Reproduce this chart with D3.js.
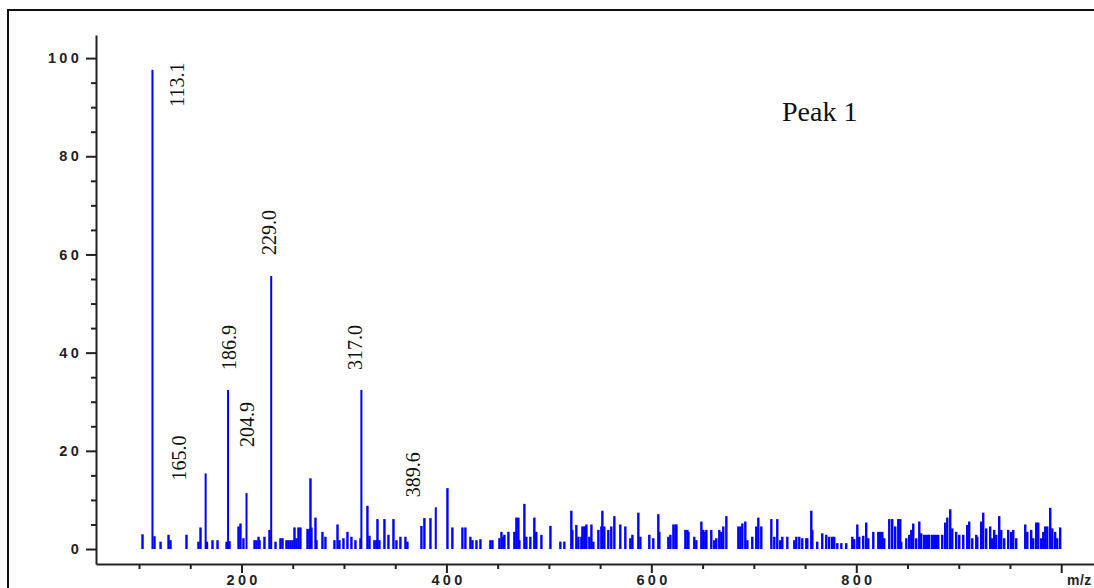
<!DOCTYPE html>
<html>
<head>
<meta charset="utf-8">
<script src="https://cdn.jsdelivr.net/npm/d3@7"></script>
<style>
  html, body { margin: 0; padding: 0; background: #ffffff; }
  svg { display: block; }
</style>
</head>
<body>
<svg id="chart" width="1094" height="588"></svg>
<script>
// Labelled fragment ions (m/z, relative abundance %)
const peakMz  = [113.1, 165.0, 186.9, 204.9, 229.0, 317.0, 389.6];
const peakInt = [97.6, 15.4, 32.4, 11.4, 55.6, 32.4, 8.5];

// Minor ions / background (m/z)
const noiseMz = [
  103.4, 115.1, 121.0, 128.8, 130.7, 146.3, 158.0, 160.0, 166.3, 171.7,
  176.6, 185.4, 188.3, 197.1, 199.0, 201.9, 212.7, 214.6, 216.6, 217.6,
  222.4, 227.3, 233.2, 238.0, 240.0, 243.9, 245.8, 247.8, 249.8, 251.7,
  253.6, 255.6, 257.5, 264.4, 266.3, 267.3, 268.3, 272.2, 273.2, 279.0,
  281.9, 290.7, 293.7, 295.6, 299.5, 303.4, 307.3, 311.2, 316.1, 322.9,
  324.9, 329.7, 331.7, 332.7, 334.6, 339.5, 343.4, 348.3, 351.2, 355.1,
  360.0, 361.9, 375.6, 378.5, 384.4, 401.0, 405.8, 415.6, 418.5, 423.4,
  425.4, 429.3, 433.2, 442.9, 444.9, 451.7, 453.7, 455.6, 456.6, 460.5,
  466.3, 468.3, 470.2, 471.2, 476.1, 478.0, 481.9, 485.8, 487.7, 492.7,
  501.5, 511.2, 515.1, 521.9, 522.9, 526.8, 528.8, 531.7, 532.7, 534.6,
  535.6, 536.6, 539.5, 541.5, 543.4, 548.3, 551.2, 552.2, 554.1, 558.0,
  560.9, 563.9, 569.7, 574.6, 579.5, 581.5, 587.3, 589.3, 598.0, 601.9,
  606.8, 607.8, 616.6, 618.6, 621.5, 623.5, 624.5, 633.2, 635.2, 636.2,
  641.9, 643.9, 648.8, 650.7, 652.7, 653.7, 658.5, 661.4, 663.4, 666.3,
  668.3, 670.2, 673.2, 684.9, 686.9, 688.8, 691.7, 693.7, 698.5, 702.4,
  704.4, 707.3, 717.1, 720.0, 722.9, 725.8, 727.8, 732.7, 739.5, 741.5,
  744.4, 747.3, 751.2, 752.2, 756.1, 757.1, 761.9, 766.8, 770.7, 773.6,
  776.5, 778.5, 781.5, 785.4, 790.2, 796.1, 798.0, 801.0, 802.9, 806.8,
  809.7, 811.7, 816.6, 821.5, 823.4, 825.4, 827.3, 832.2, 835.1, 838.0,
  841.0, 842.9, 843.9, 848.8, 851.7, 853.7, 855.6, 858.5, 861.5, 863.4,
  866.3, 868.3, 870.2, 871.2, 874.1, 876.1, 878.0, 880.0, 883.9, 886.8,
  888.8, 891.7, 893.7, 897.5, 900.5, 904.4, 908.3, 910.2, 913.2, 917.1,
  918.1, 921.9, 923.9, 926.8, 930.7, 932.7, 934.6, 936.6, 939.5, 941.5,
  944.4, 948.3, 951.2, 953.2, 956.1, 964.9, 966.9, 970.7, 972.7, 975.6,
  977.6, 980.5, 982.5, 984.4, 986.4, 989.3, 991.3, 994.1, 996.1, 999.0
];
// Minor ions / background (relative abundance %)
const noiseInt = [
  3.0, 2.6, 1.5, 2.9, 1.8, 2.9, 1.5, 4.4, 1.5, 1.8,
  1.8, 1.5, 1.6, 4.6, 5.2, 2.2, 1.8, 1.8, 2.5, 1.8,
  2.5, 3.9, 1.5, 2.2, 2.2, 1.8, 1.8, 1.8, 1.8, 4.4,
  2.2, 4.4, 4.4, 4.1, 4.1, 14.4, 4.4, 6.4, 1.8, 3.5,
  2.5, 1.8, 5.0, 1.8, 2.2, 3.5, 2.5, 1.8, 2.2, 8.8,
  2.7, 1.8, 1.8, 6.1, 1.8, 6.1, 2.9, 6.1, 1.8, 2.5,
  2.5, 1.5, 4.7, 6.3, 6.3, 12.4, 4.4, 4.4, 4.4, 2.5,
  1.8, 1.8, 2.0, 1.8, 1.8, 2.2, 3.5, 2.5, 2.9, 3.5,
  3.5, 6.4, 6.4, 1.8, 9.2, 2.5, 2.5, 6.4, 3.5, 2.9,
  4.7, 1.5, 1.5, 7.8, 3.9, 4.9, 2.5, 2.5, 4.6, 4.6,
  4.6, 5.0, 2.5, 5.0, 1.5, 3.9, 4.6, 7.8, 4.6, 3.9,
  4.6, 6.7, 5.0, 4.6, 2.2, 2.9, 7.4, 2.5, 2.9, 2.2,
  7.1, 3.5, 2.5, 2.9, 5.0, 5.0, 5.0, 3.9, 3.9, 3.5,
  2.5, 1.8, 5.6, 3.9, 3.5, 3.9, 3.9, 1.8, 2.2, 3.9,
  3.5, 4.6, 6.7, 4.6, 4.6, 5.2, 5.6, 1.8, 2.5, 4.6,
  6.4, 4.6, 6.1, 2.5, 6.1, 1.8, 2.5, 2.5, 1.8, 2.5,
  2.5, 2.2, 2.2, 2.2, 7.8, 3.9, 1.5, 3.2, 2.9, 2.5,
  2.5, 2.5, 1.2, 1.2, 1.2, 2.5, 2.0, 5.0, 2.5, 2.7,
  5.4, 2.2, 3.5, 3.5, 3.5, 3.5, 2.2, 6.1, 6.1, 4.6,
  6.1, 6.1, 1.5, 2.2, 2.9, 3.9, 5.2, 2.2, 5.6, 3.2,
  2.9, 2.9, 2.9, 2.9, 2.9, 2.9, 2.9, 2.9, 2.9, 5.4,
  6.4, 8.1, 4.2, 3.5, 2.9, 2.9, 4.9, 5.6, 2.2, 2.9,
  2.5, 5.6, 7.4, 4.2, 4.6, 2.2, 3.9, 2.9, 6.7, 3.9,
  2.2, 3.9, 3.5, 3.9, 2.2, 5.0, 3.5, 3.9, 2.2, 5.4,
  5.4, 2.2, 3.5, 4.6, 4.6, 8.4, 4.2, 3.5, 2.2, 4.4
];

// Axis ticks
const yMajorTicks = [0, 20, 40, 60, 80, 100];
const xMajorTicks = [200, 400, 600, 800, 1000];
const xTickLabels = ["200", "400", "600", "800", ""];

const title = "Peak 1";
const xTitle = "m/z";

const BLUE = "#0000ff";
const INK = "#222222";

const svg = d3.select("#chart");

// Outer frame
svg.append("rect")
  .attr("x", 8).attr("y", 10)
  .attr("width", 1100).attr("height", 600)
  .attr("fill", "none")
  .attr("stroke", "#111")
  .attr("stroke-width", 2);

const x = d3.scaleLinear().domain([58, 1032]).range([96, 1094]);
const y = d3.scaleLinear().domain([-3.05, 104.7]).range([564, 35]);

// Y axis: minor ticks every 5 %, major every 20 %
const yMinor = d3.axisLeft(y)
  .tickValues(d3.range(0, 101, 5).filter(v => v % 20 !== 0))
  .tickSize(5).tickSizeOuter(0).tickFormat("");
const yMajor = d3.axisLeft(y)
  .tickValues(yMajorTicks)
  .tickSize(10).tickSizeOuter(0).tickPadding(4);

const gYMinor = svg.append("g").attr("transform", "translate(96,0)").call(yMinor);
gYMinor.select(".domain").remove();
const gY = svg.append("g").attr("transform", "translate(96,0)").call(yMajor);

// X axis: minor ticks every 50, major every 200
const xMinor = d3.axisBottom(x)
  .tickValues(d3.range(100, 1000, 50).filter(v => v % 200 !== 0))
  .tickSize(5).tickSizeOuter(0).tickFormat("");
const xMajor = d3.axisBottom(x)
  .tickValues(xMajorTicks)
  .tickSize(9).tickSizeOuter(0).tickPadding(4)
  .tickFormat((d, i) => xTickLabels[i]);

const gXMinor = svg.append("g").attr("transform", "translate(0,564)").call(xMinor);
gXMinor.select(".domain").remove();
const gX = svg.append("g").attr("transform", "translate(0,564)").call(xMajor);

svg.selectAll(".domain, .tick line")
  .attr("stroke", INK)
  .attr("stroke-width", 2);

svg.selectAll(".tick text")
  .attr("fill", INK)
  .style("font-family", "'Liberation Sans', Arial, sans-serif")
  .style("font-weight", "bold")
  .style("font-size", "14.5px")
  .style("letter-spacing", "3.3px");
// x labels sit just above the lower edge of the frame
gX.selectAll(".tick text")
  .attr("y", 20.5)
  .attr("dy", null)
  .attr("dx", "1.6px");

// Spectrum sticks
const plot = svg.append("g");
const zeroY = y(0);

plot.selectAll("rect.noise")
  .data(noiseMz.map((m, i) => ({ mz: m, v: noiseInt[i] })))
  .join("rect")
  .attr("class", "noise")
  .attr("x", d => x(d.mz) - 1.2)
  .attr("width", 2.4)
  .attr("y", d => y(d.v))
  .attr("height", d => zeroY - y(d.v))
  .attr("fill", BLUE);

const peaks = peakMz.map((m, i) => ({ mz: m, v: peakInt[i] }));

plot.selectAll("rect.peak")
  .data(peaks)
  .join("rect")
  .attr("class", "peak")
  .attr("x", d => x(d.mz) - 1)
  .attr("width", 2)
  .attr("y", d => y(d.v))
  .attr("height", d => zeroY - y(d.v))
  .attr("fill", BLUE);

// Vertical m/z annotations: offset of label centre from the stick,
// and offset of the label's lower end from the stick top.
const labelLayout = [
  [25, 37], [-26, 7], [1, -20], [1, -46], [-2, -21], [-6, -20], [-22, -10]
];

svg.append("g").selectAll("text")
  .data(peaks)
  .join("text")
  .attr("transform", (d, i) => {
    const cx = x(d.mz) + labelLayout[i][0] + 6.6;
    const by = y(d.v) + labelLayout[i][1];
    return `translate(${cx},${by}) rotate(-90)`;
  })
  .attr("text-anchor", "start")
  .style("font-family", "'Liberation Serif', 'Times New Roman', serif")
  .style("font-size", "20px")
  .attr("fill", "#111")
  .text(d => d.mz.toFixed(1));

// Title and axis name
svg.append("text")
  .attr("x", 782).attr("y", 121)
  .style("font-family", "'Liberation Serif', 'Times New Roman', serif")
  .style("font-size", "28px")
  .attr("fill", "#111")
  .text(title);

svg.append("text")
  .attr("x", 1067).attr("y", 584.5)
  .style("font-family", "'Liberation Sans', Arial, sans-serif")
  .style("font-weight", "bold")
  .style("font-size", "14px")
  .style("letter-spacing", "0.5px")
  .attr("fill", INK)
  .text(xTitle);
</script>
</body>
</html>
